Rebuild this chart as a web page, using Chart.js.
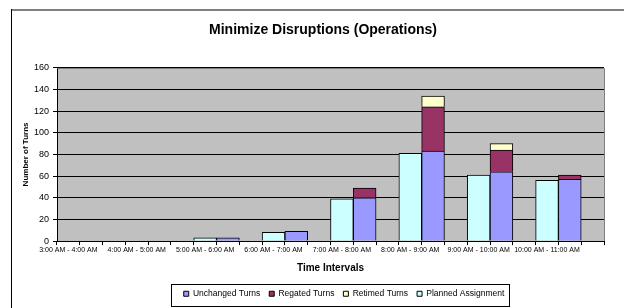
<!DOCTYPE html>
<html>
<head>
<meta charset="utf-8">
<script src="https://cdn.jsdelivr.net/npm/chart.js@4/dist/chart.umd.min.js"></script>
<style>
  html, body { margin: 0; padding: 0; background: #fff; }
  #wrap { position: relative; width: 624px; height: 308px; }
</style>
</head>
<body>
<div id="wrap"><canvas id="turnsChart" width="624" height="308"></canvas></div>
<script>
const intervals = ['3:00 AM - 4:00 AM', '4:00 AM - 5:00 AM', '5:00 AM - 6:00 AM', '6:00 AM - 7:00 AM',
    '7:00 AM - 8:00 AM', '8:00 AM - 9:00 AM', '9:00 AM - 10:00 AM', '10:00 AM - 11:00 AM'];
const planned = [0, 0, 3, 8, 39, 81, 61, 56];
const unchanged = [0, 0, 3, 9, 40, 83, 64, 57];
const regated = [0, 0, 0, 0, 9, 41, 20, 4];
const retimed = [0, 0, 0, 0, 0, 10, 6, 0];
const yMax = 160;
const yStep = 20;

const FONT = "'Liberation Sans', Arial, sans-serif";

// each interval gets 3 slots: planned bar, actual stacked bar, empty gap
const slotLabels = [];
intervals.forEach(l => slotLabels.push(l, '', ''));
function slots(values, pos) {
    const out = [];
    values.forEach(v => {
        const s = [null, null, null];
        s[pos] = v > 0 ? v : null;
        out.push(...s);
    });
    return out;
}

const framePlugin = {
    id: 'frame',
    afterUpdate(chart) {
        // legend and title sit a bit right of centre in the original
        const lg = chart.legend;
        const shift = 36;
        lg.left += shift;
        lg.right += shift;
        lg.legendHitBoxes.forEach(b => { b.left += shift; });
        const t = chart.titleBlock;
        if (t) {
            t.left += 15;
            t.right += 15;
        }
    },
    beforeDraw(chart) {
        const ctx = chart.ctx;
        const a = chart.chartArea;
        ctx.save();
        ctx.fillStyle = '#fff';
        ctx.fillRect(0, 0, chart.width, chart.height);
        ctx.fillStyle = '#c0c0c0';
        ctx.fillRect(a.left, a.top, a.right - a.left, a.bottom - a.top);
        ctx.strokeStyle = '#808080';
        ctx.lineWidth = 2;
        ctx.beginPath();
        ctx.moveTo(11, 10);
        ctx.lineTo(chart.width, 10);
        ctx.stroke();
        ctx.strokeStyle = '#000';
        ctx.lineWidth = 1;
        ctx.beginPath();
        ctx.moveTo(11.5, 9);
        ctx.lineTo(11.5, chart.height);
        ctx.stroke();
        ctx.restore();
    },
    afterDraw(chart) {
        const ctx = chart.ctx;
        const a = chart.chartArea;
        ctx.save();
        ctx.strokeStyle = '#808080';
        ctx.lineWidth = 1;
        ctx.beginPath();
        ctx.moveTo(Math.round(a.left) + 0.5, Math.round(a.top) + 0.5);
        ctx.lineTo(Math.round(a.right) + 0.5, Math.round(a.top) + 0.5);
        ctx.lineTo(Math.round(a.right) + 0.5, Math.round(a.bottom));
        ctx.stroke();
        // legend border
        const boxes = chart.legend.legendHitBoxes;
        if (boxes && boxes.length) {
            const x0 = Math.min(...boxes.map(b => b.left)) - 13;
            const x1 = Math.max(...boxes.map(b => b.left + b.width)) + 4;
            const y0 = Math.min(...boxes.map(b => b.top)) - 6;
            const y1 = Math.max(...boxes.map(b => b.top + b.height)) + 7;
            ctx.strokeStyle = '#000';
            ctx.strokeRect(Math.round(x0) + 0.5, Math.round(y0) + 0.5, Math.round(x1 - x0), Math.round(y1 - y0));
        }
        ctx.restore();
    }
};

const ctx = document.getElementById('turnsChart').getContext('2d');
const turnsChart = new Chart(ctx, {
    type: 'bar',
    data: {
        labels: slotLabels,
        datasets: [{
            label: 'Unchanged Turns',
            data: slots(unchanged, 1),
            backgroundColor: '#9999ff',
            borderColor: '#000',
            borderWidth: 1
        }, {
            label: 'Regated Turns',
            data: slots(regated, 1),
            backgroundColor: '#993366',
            borderColor: '#000',
            borderWidth: 1
        }, {
            label: 'Retimed Turns',
            data: slots(retimed, 1),
            backgroundColor: '#ffffcc',
            borderColor: '#000',
            borderWidth: 1
        }, {
            label: 'Planned Assignment',
            data: slots(planned, 0),
            backgroundColor: '#ccffff',
            borderColor: '#000',
            borderWidth: 1
        }]
    },
    options: {
        responsive: false,
        animation: false,
        barPercentage: 1,
        categoryPercentage: 1,
        layout: {
            padding: { left: 12, right: 20, top: 0, bottom: 0 }
        },
        plugins: {
            title: {
                display: true,
                text: 'Minimize Disruptions (Operations)',
                color: '#000',
                font: { family: FONT, size: 14, weight: 'bold' },
                padding: { top: 22, bottom: 29 }
            },
            legend: {
                position: 'bottom',
                labels: {
                    color: '#000',
                    font: { family: FONT, size: 8.5 },
                    boxWidth: 5,
                    boxHeight: 5,
                    padding: 9
                }
            },
            tooltip: { enabled: false }
        },
        scales: {
            x: {
                stacked: true,
                border: { color: '#000', width: 1 },
                grid: {
                    drawOnChartArea: false,
                    drawTicks: true,
                    tickLength: 4,
                    color: '#000'
                },
                ticks: {
                    color: '#000',
                    font: { family: FONT, size: 7 },
                    autoSkip: false,
                    maxRotation: 0,
                    minRotation: 0,
                    padding: 1
                },
                title: {
                    display: true,
                    text: 'Time Intervals',
                    color: '#000',
                    font: { family: FONT, size: 10, weight: 'bold' },
                    padding: { top: 7, bottom: 6 }
                }
            },
            y: {
                stacked: true,
                min: 0,
                max: yMax,
                border: { color: '#000', width: 1 },
                grid: {
                    color: '#000',
                    tickLength: 4
                },
                ticks: {
                    stepSize: yStep,
                    color: '#000',
                    font: { family: FONT, size: 9 },
                    padding: 4
                },
                title: {
                    display: true,
                    text: 'Number of Turns',
                    color: '#000',
                    font: { family: FONT, size: 8, weight: 'bold' },
                    padding: { top: 9, bottom: 4 }
                },
                afterFit(scale) {
                    scale.width = 45;
                }
            }
        }
    },
    plugins: [framePlugin]
});
</script>
</body>
</html>
